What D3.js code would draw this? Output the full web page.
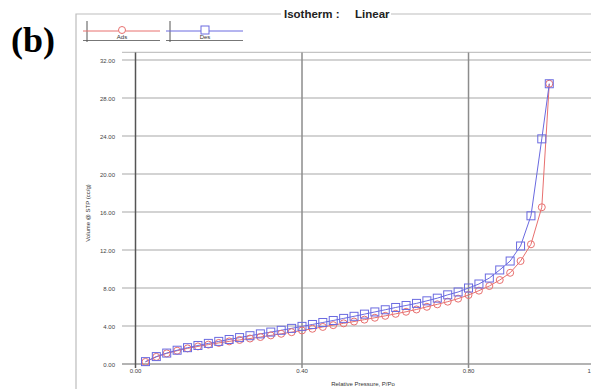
<!DOCTYPE html>
<html><head><meta charset="utf-8">
<script src="https://cdn.jsdelivr.net/npm/d3@7"></script>
<style>body{margin:0;background:#fff}svg{display:block;font-family:"Liberation Sans",Arial,sans-serif}</style>
</head><body><svg id="c" width="591" height="389"></svg>
<script>
const pressure = [0.024,0.05,0.075,0.10,0.125,0.15,0.175,0.20,0.225,0.25,0.275,0.30,0.325,0.35,0.375,0.40,0.425,0.45,0.475,0.50,0.525,0.55,0.575,0.60,0.625,0.65,0.675,0.70,0.725,0.75,0.775,0.80,0.825,0.85,0.875,0.90,0.925,0.95,0.976,0.994];
const adsVolume = [0.22,0.75,1.12,1.40,1.64,1.85,2.04,2.22,2.38,2.53,2.68,2.84,3.01,3.18,3.35,3.53,3.71,3.90,4.09,4.28,4.47,4.67,4.87,5.07,5.28,5.50,5.74,6.02,6.28,6.56,6.88,7.26,7.72,8.21,8.84,9.60,10.84,12.60,16.50,29.50];
const desVolume = [0.25,0.78,1.15,1.45,1.72,1.95,2.17,2.38,2.58,2.78,2.98,3.17,3.36,3.55,3.75,3.96,4.16,4.37,4.58,4.80,5.02,5.25,5.48,5.71,5.95,6.16,6.38,6.65,6.93,7.28,7.58,8.00,8.42,9.05,9.90,10.84,12.42,15.60,23.70,29.50];
const xTicks = [0.00,0.40,0.80,1.10];
const yTicks = [0,4,8,12,16,20,24,28,32];
const seriesNames = ["Ads","Des"];
const title = ["Isotherm :","Linear"];

const svg = d3.select("#c");
const x = d3.scaleLinear().domain([0,1.1]).range([135.5,593.4]);
const y = d3.scaleLinear().domain([0,32]).range([364,60]);
const red = "#e8706f", blue = "#6a6ae0";

// outer frame
svg.append("path").attr("d","M76,389V14H281M391,14H591").attr("fill","none").attr("stroke","#bdbdbd").attr("stroke-width",1.2);
svg.append("text").attr("x",284).attr("y",18).attr("font-size",11.5).attr("font-weight","bold").attr("fill","#222").text(title[0]);
svg.append("text").attr("x",355).attr("y",18).attr("font-size",11.5).attr("font-weight","bold").attr("fill","#222").text(title[1]);
svg.append("text").attr("x",11).attr("y",52).attr("font-family","'Liberation Serif','Times New Roman',serif").attr("font-size",36).attr("font-weight","bold").attr("fill","#000").text("(b)");

// legend
const leg = [{n:seriesNames[0],c:red,x0:83,m:"circle"},{n:seriesNames[1],c:blue,x0:166,m:"square"}];
leg.forEach(l=>{
  const g = svg.append("g");
  g.append("line").attr("x1",l.x0).attr("x2",l.x0+77).attr("y1",40.5).attr("y2",40.5).attr("stroke","#777").attr("stroke-width",1);
  g.append("line").attr("x1",l.x0+4).attr("x2",l.x0+4).attr("y1",21).attr("y2",42).attr("stroke","#555").attr("stroke-width",1);
  g.append("line").attr("x1",l.x0).attr("x2",l.x0+77).attr("y1",31).attr("y2",31).attr("stroke",l.c).attr("stroke-width",1);
  const cx = l.x0+39;
  if(l.m==="circle") g.append("circle").attr("cx",cx).attr("cy",30).attr("r",3.5).attr("fill","#fff").attr("stroke",l.c);
  else g.append("rect").attr("x",cx-4).attr("y",26).attr("width",8).attr("height",8).attr("fill","#fff").attr("stroke",l.c);
  g.append("text").attr("x",cx).attr("y",39).attr("text-anchor","middle").attr("font-size",6).attr("fill","#333").text(l.n);
});

// horizontal grid
svg.append("line").attr("x1",122).attr("x2",591).attr("y1",y(32.8)).attr("y2",y(32.8)).attr("stroke","#c4c4c4").attr("stroke-width",1.3);
svg.append("g").selectAll("line").data(yTicks).join("line")
  .attr("x1",122).attr("x2",591).attr("y1",d=>y(d)).attr("y2",d=>y(d))
  .attr("stroke",d=>d===0?"#9a9a9a":"#c4c4c4").attr("stroke-width",1.3);
svg.append("g").selectAll("text").data(yTicks).join("text")
  .attr("x",115).attr("y",d=>y(d)+2.5).attr("text-anchor","end").attr("font-size",6).attr("fill","#444")
  .text(d=>d3.format(".2f")(d));

// vertical grid
svg.append("g").selectAll("line").data(xTicks).join("line")
  .attr("x1",d=>x(d)).attr("x2",d=>x(d)).attr("y1",y(32.8)).attr("y2",368)
  .attr("stroke",d=>d===0?"#555":"#8c8c8c").attr("stroke-width",1.5);
svg.append("g").selectAll("text").data(xTicks).join("text")
  .attr("x",d=>x(d)).attr("y",373).attr("text-anchor","middle").attr("font-size",6).attr("fill","#444")
  .text(d=>d3.format(".2f")(d));

svg.append("text").attr("x",363).attr("y",386).attr("text-anchor","middle").attr("font-size",6).attr("fill","#333").text("Relative Pressure, P/Po");
svg.append("text").attr("transform","translate(90,213) rotate(-90)").attr("text-anchor","middle").attr("font-size",6).attr("fill","#333").text("Volume @ STP (cc/g)");

// series
const ads = pressure.map((p,i)=>({p,v:adsVolume[i]}));
const des = pressure.map((p,i)=>({p,v:desVolume[i]}));
const line = d3.line().x(d=>x(d.p)).y(d=>y(d.v));
svg.append("path").datum(ads).attr("d",line).attr("fill","none").attr("stroke",red).attr("stroke-width",1);
svg.append("path").datum(des).attr("d",line).attr("fill","none").attr("stroke",blue).attr("stroke-width",1);
svg.append("g").selectAll("circle").data(ads).join("circle")
  .attr("cx",d=>x(d.p)).attr("cy",d=>y(d.v)).attr("r",3.5).attr("fill","none").attr("stroke",red).attr("stroke-width",1);
svg.append("g").selectAll("rect").data(des).join("rect")
  .attr("x",d=>x(d.p)-4).attr("y",d=>y(d.v)-4).attr("width",8).attr("height",8).attr("fill","none").attr("stroke",blue).attr("stroke-width",1);
</script></body></html>
